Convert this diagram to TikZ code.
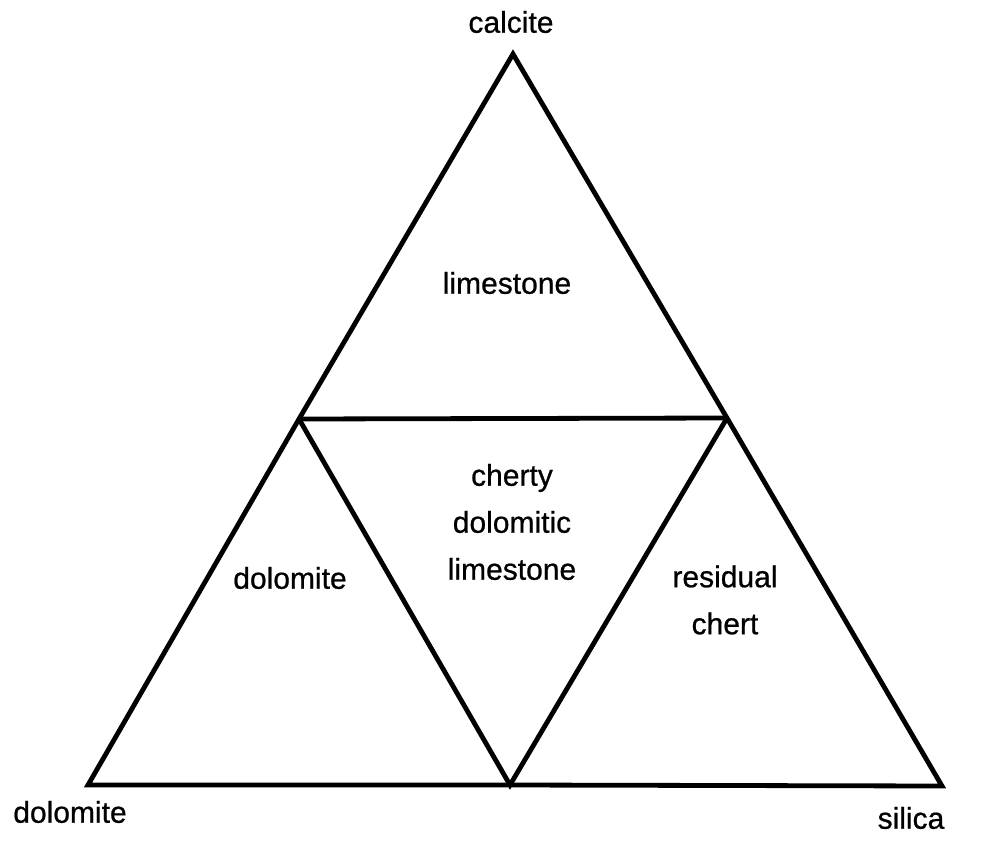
\documentclass[tikz,border=0pt]{standalone}
\usepackage{fontspec}
\setmainfont{Liberation Sans}[UprightFeatures={FakeBold=0.7}]
\begin{document}
\begin{tikzpicture}[x=1pt,y=-1pt,
  edge/.style={line width=4.8pt, line join=miter, line cap=butt},
  lab/.style={font=\fontsize{30}{47}\selectfont, align=center, inner sep=0pt}]
\useasboundingbox (0,0) rectangle (997,846);
\coordinate (T) at (513,54);
\coordinate (L) at (88,785);
\coordinate (R) at (942,786);
\coordinate (ML) at (299,419);
\coordinate (MR) at (727,418);
\coordinate (MB) at (510,785);
\draw[edge] (T) -- (ML) -- (L) -- (MB) -- (R) -- (MR) -- cycle;
\draw[edge] (ML) -- (MR);
\draw[edge] (ML) -- (MB) -- (MR);
\node[lab] (calcite) at (511,22) {calcite};
\node[lab] (dolc) at (70,812) {dolomite};
\node[lab] (sil) at (911,818) {silica};
\node[lab] (lime) at (507,283) {limestone};
\node[lab] (cdl) at (512,522) {cherty\\dolomitic\\limestone};
\node[lab] (dol) at (290,578) {dolomite};
\node[lab] (rc) at (725,600) {residual\\chert};
\end{tikzpicture}
\end{document}
